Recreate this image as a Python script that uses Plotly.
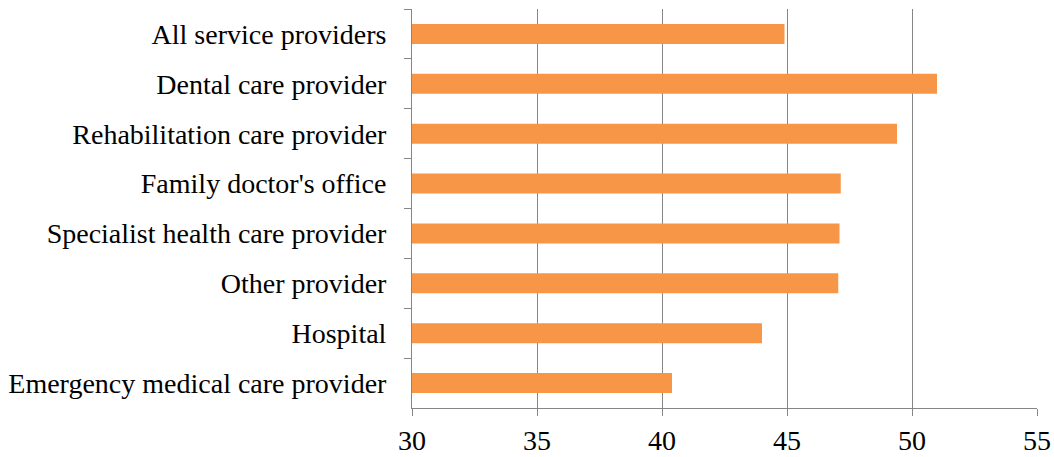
import plotly.graph_objects as go

providers = [
    'All service providers',
    'Dental care provider',
    'Rehabilitation care provider',
    "Family doctor's office",
    'Specialist health care provider',
    'Other provider',
    'Hospital',
    'Emergency medical care provider',
]
values = [44.9, 51.0, 49.4, 47.15, 47.1, 47.05, 44.0, 40.4]
x_ticks = [30, 35, 40, 45, 50, 55]

grey = '#868686'

fig = go.Figure(go.Bar(
    x=values,
    y=providers,
    orientation='h',
    marker=dict(color='#F79646', line=dict(width=0)),
))

fig.update_layout(
    width=1054,
    height=457,
    margin=dict(l=412, r=17, t=9, b=49),
    plot_bgcolor='white',
    paper_bgcolor='white',
    bargap=0.6,
    showlegend=False,
    font=dict(family='Liberation Serif', size=28, color='black'),
    xaxis=dict(
        range=[30, 55],
        tickvals=x_ticks,
        showgrid=True,
        gridcolor=grey,
        gridwidth=1,
        showline=True,
        linecolor=grey,
        linewidth=1,
        ticks='outside',
        ticklen=7,
        tickcolor=grey,
        ticklabelstandoff=0,
        zeroline=False,
        automargin=False,
    ),
    yaxis=dict(
        autorange='reversed',
        showline=True,
        linecolor=grey,
        linewidth=1,
        ticks='outside',
        tickson='boundaries',
        ticklen=7,
        tickcolor=grey,
        ticklabelstandoff=19,
        showgrid=False,
        automargin=False,
    ),
)

# drop the default body margin so the figure fills the window exactly
fig.write_html('out.html',
               config={'displayModeBar': False},
               post_script="document.body.style.margin='0';document.body.style.overflow='hidden';")
